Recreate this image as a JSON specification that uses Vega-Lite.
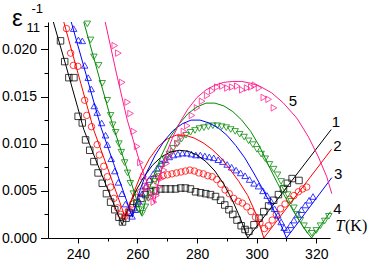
{
"$schema": "https://vega.github.io/schema/vega-lite/v6.json",
"width": 282, "height": 216,
"autosize": {"type": "none"},
"padding": {"left": 48, "top": 22, "right": 41, "bottom": 23},
"background": "white",
"config": {"view": {"stroke": null}, "axis": {"grid": false, "domainColor": "black", "tickColor": "black", "labelColor": "black", "titleColor": "black", "labelFont": "Liberation Sans", "titleFont": "Liberation Sans", "titleFontWeight": "normal", "labelFontSize": 14, "domainWidth": 1, "tickWidth": 1}},
"datasets": {
"pts": [
{"s":"1","T":234.2,"e":0.0209},{"s":"1","T":235.6,"e":0.0187},{"s":"1","T":237.0,"e":0.0170},{"s":"1","T":238.7,"e":0.0170},{"s":"1","T":240.1,"e":0.0129},{"s":"1","T":241.5,"e":0.0122},{"s":"1","T":242.6,"e":0.0104},{"s":"1","T":244.0,"e":0.0093},{"s":"1","T":245.4,"e":0.0081},{"s":"1","T":246.8,"e":0.0069},{"s":"1","T":248.2,"e":0.0058},{"s":"1","T":249.6,"e":0.0047},{"s":"1","T":251.0,"e":0.0038},{"s":"1","T":252.4,"e":0.0030},{"s":"1","T":253.8,"e":0.0022},{"s":"1","T":255.0,"e":0.0017},{"s":"1","T":256.2,"e":0.0021},{"s":"1","T":257.3,"e":0.0027},{"s":"1","T":258.5,"e":0.0032},{"s":"1","T":259.8,"e":0.0037},{"s":"1","T":261.2,"e":0.0042},{"s":"1","T":262.7,"e":0.0046},{"s":"1","T":264.4,"e":0.0049},{"s":"1","T":266.1,"e":0.0050},{"s":"1","T":267.8,"e":0.0052},{"s":"1","T":269.4,"e":0.0052},{"s":"1","T":271.1,"e":0.0052},{"s":"1","T":272.8,"e":0.0052},{"s":"1","T":274.5,"e":0.0053},{"s":"1","T":276.1,"e":0.0053},{"s":"1","T":277.8,"e":0.0052},{"s":"1","T":279.5,"e":0.0049},{"s":"1","T":281.2,"e":0.0048},{"s":"1","T":282.9,"e":0.0047},{"s":"1","T":284.5,"e":0.0046},{"s":"1","T":286.2,"e":0.0044},{"s":"1","T":287.9,"e":0.0040},{"s":"1","T":289.3,"e":0.0035},{"s":"1","T":290.7,"e":0.0030},{"s":"1","T":292.0,"e":0.0025},{"s":"1","T":293.4,"e":0.0019},{"s":"1","T":294.8,"e":0.0013},{"s":"1","T":296.1,"e":0.0009},{"s":"1","T":297.4,"e":0.0007},{"s":"1","T":299.1,"e":0.0014},{"s":"1","T":300.8,"e":0.0021},{"s":"1","T":302.4,"e":0.0028},{"s":"1","T":304.0,"e":0.0034},{"s":"1","T":305.7,"e":0.0040},{"s":"1","T":307.3,"e":0.0046},{"s":"1","T":309.0,"e":0.0052},{"s":"1","T":310.3,"e":0.0058},{"s":"1","T":311.9,"e":0.0063},{"s":"1","T":314.2,"e":0.0061},
{"s":"2","T":236.2,"e":0.0222},{"s":"2","T":237.6,"e":0.0196},{"s":"2","T":238.5,"e":0.0183},{"s":"2","T":240.0,"e":0.0182},{"s":"2","T":242.3,"e":0.0146},{"s":"2","T":243.0,"e":0.0130},{"s":"2","T":244.6,"e":0.0118},{"s":"2","T":246.5,"e":0.0099},{"s":"2","T":247.2,"e":0.0088},{"s":"2","T":248.7,"e":0.0076},{"s":"2","T":249.9,"e":0.0065},{"s":"2","T":251.0,"e":0.0054},{"s":"2","T":252.1,"e":0.0042},{"s":"2","T":253.3,"e":0.0032},{"s":"2","T":254.4,"e":0.0025},{"s":"2","T":255.8,"e":0.0023},{"s":"2","T":257.0,"e":0.0029},{"s":"2","T":258.3,"e":0.0036},{"s":"2","T":259.7,"e":0.0043},{"s":"2","T":261.1,"e":0.0049},{"s":"2","T":262.6,"e":0.0055},{"s":"2","T":264.1,"e":0.0060},{"s":"2","T":265.6,"e":0.0063},{"s":"2","T":267.1,"e":0.0065},{"s":"2","T":268.6,"e":0.0066},{"s":"2","T":270.1,"e":0.0067},{"s":"2","T":271.6,"e":0.0068},{"s":"2","T":273.1,"e":0.0069},{"s":"2","T":274.6,"e":0.0070},{"s":"2","T":276.1,"e":0.0071},{"s":"2","T":277.6,"e":0.0072},{"s":"2","T":279.1,"e":0.0071},{"s":"2","T":280.6,"e":0.0069},{"s":"2","T":282.1,"e":0.0068},{"s":"2","T":283.6,"e":0.0066},{"s":"2","T":285.1,"e":0.0065},{"s":"2","T":286.6,"e":0.0062},{"s":"2","T":288.0,"e":0.0057},{"s":"2","T":289.4,"e":0.0051},{"s":"2","T":290.8,"e":0.0047},{"s":"2","T":292.3,"e":0.0042},{"s":"2","T":293.8,"e":0.0039},{"s":"2","T":295.2,"e":0.0037},{"s":"2","T":296.7,"e":0.0033},{"s":"2","T":298.1,"e":0.0028},{"s":"2","T":299.6,"e":0.0022},{"s":"2","T":301.1,"e":0.0016},{"s":"2","T":302.6,"e":0.0010},{"s":"2","T":303.9,"e":0.0013},{"s":"2","T":305.2,"e":0.0019},{"s":"2","T":306.6,"e":0.0025},{"s":"2","T":308.0,"e":0.0031},{"s":"2","T":309.5,"e":0.0036},{"s":"2","T":311.0,"e":0.0041},{"s":"2","T":312.5,"e":0.0045},{"s":"2","T":314.0,"e":0.0049},{"s":"2","T":315.4,"e":0.0052},{"s":"2","T":316.8,"e":0.0054},
{"s":"3","T":238.6,"e":0.0222},{"s":"3","T":240.2,"e":0.0210},{"s":"3","T":241.5,"e":0.0209},{"s":"3","T":242.3,"e":0.0183},{"s":"3","T":243.5,"e":0.0170},{"s":"3","T":244.5,"e":0.0158},{"s":"3","T":245.5,"e":0.0140},{"s":"3","T":246.5,"e":0.0133},{"s":"3","T":248.0,"e":0.0122},{"s":"3","T":249.3,"e":0.0109},{"s":"3","T":249.9,"e":0.0099},{"s":"3","T":251.2,"e":0.0084},{"s":"3","T":252.4,"e":0.0071},{"s":"3","T":253.6,"e":0.0059},{"s":"3","T":254.8,"e":0.0047},{"s":"3","T":256.0,"e":0.0036},{"s":"3","T":257.1,"e":0.0027},{"s":"3","T":258.2,"e":0.0023},{"s":"3","T":259.3,"e":0.0030},{"s":"3","T":260.4,"e":0.0039},{"s":"3","T":261.6,"e":0.0047},{"s":"3","T":262.8,"e":0.0055},{"s":"3","T":264.0,"e":0.0062},{"s":"3","T":265.3,"e":0.0068},{"s":"3","T":266.6,"e":0.0074},{"s":"3","T":267.9,"e":0.0079},{"s":"3","T":269.3,"e":0.0083},{"s":"3","T":270.7,"e":0.0086},{"s":"3","T":272.1,"e":0.0088},{"s":"3","T":273.6,"e":0.0089},{"s":"3","T":275.1,"e":0.0090},{"s":"3","T":276.6,"e":0.0090},{"s":"3","T":278.1,"e":0.0089},{"s":"3","T":279.6,"e":0.0088},{"s":"3","T":281.1,"e":0.0088},{"s":"3","T":282.6,"e":0.0087},{"s":"3","T":284.1,"e":0.0086},{"s":"3","T":285.6,"e":0.0085},{"s":"3","T":287.1,"e":0.0083},{"s":"3","T":288.6,"e":0.0081},{"s":"3","T":290.1,"e":0.0078},{"s":"3","T":291.6,"e":0.0075},{"s":"3","T":293.1,"e":0.0072},{"s":"3","T":294.6,"e":0.0069},{"s":"3","T":296.1,"e":0.0066},{"s":"3","T":297.6,"e":0.0062},{"s":"3","T":299.1,"e":0.0058},{"s":"3","T":300.6,"e":0.0055},{"s":"3","T":302.1,"e":0.0050},{"s":"3","T":303.5,"e":0.0045},{"s":"3","T":304.8,"e":0.0039},{"s":"3","T":306.0,"e":0.0031},{"s":"3","T":307.1,"e":0.0024},{"s":"3","T":308.2,"e":0.0017},{"s":"3","T":309.2,"e":0.0011},{"s":"3","T":310.3,"e":0.0009},{"s":"3","T":311.4,"e":0.0014},{"s":"3","T":312.5,"e":0.0019},{"s":"3","T":313.7,"e":0.0025},{"s":"3","T":315.0,"e":0.0030},{"s":"3","T":316.3,"e":0.0035},{"s":"3","T":317.6,"e":0.0040},{"s":"3","T":318.9,"e":0.0044},
{"s":"4","T":243.2,"e":0.0227},{"s":"4","T":244.3,"e":0.0210},{"s":"4","T":245.4,"e":0.0192},{"s":"4","T":247.0,"e":0.0183},{"s":"4","T":248.2,"e":0.0164},{"s":"4","T":249.9,"e":0.0146},{"s":"4","T":251.0,"e":0.0130},{"s":"4","T":251.7,"e":0.0120},{"s":"4","T":252.7,"e":0.0112},{"s":"4","T":253.8,"e":0.0100},{"s":"4","T":254.6,"e":0.0091},{"s":"4","T":255.7,"e":0.0080},{"s":"4","T":256.7,"e":0.0069},{"s":"4","T":257.6,"e":0.0058},{"s":"4","T":258.6,"e":0.0047},{"s":"4","T":259.6,"e":0.0037},{"s":"4","T":260.6,"e":0.0030},{"s":"4","T":261.6,"e":0.0026},{"s":"4","T":262.7,"e":0.0033},{"s":"4","T":263.7,"e":0.0042},{"s":"4","T":264.8,"e":0.0051},{"s":"4","T":265.9,"e":0.0060},{"s":"4","T":267.0,"e":0.0068},{"s":"4","T":268.2,"e":0.0076},{"s":"4","T":269.4,"e":0.0083},{"s":"4","T":270.7,"e":0.0089},{"s":"4","T":272.0,"e":0.0095},{"s":"4","T":273.4,"e":0.0100},{"s":"4","T":274.8,"e":0.0105},{"s":"4","T":276.3,"e":0.0109},{"s":"4","T":277.8,"e":0.0112},{"s":"4","T":279.3,"e":0.0114},{"s":"4","T":280.8,"e":0.0116},{"s":"4","T":282.3,"e":0.0117},{"s":"4","T":283.8,"e":0.0118},{"s":"4","T":285.3,"e":0.0119},{"s":"4","T":286.8,"e":0.0119},{"s":"4","T":288.3,"e":0.0118},{"s":"4","T":289.8,"e":0.0117},{"s":"4","T":291.3,"e":0.0115},{"s":"4","T":292.8,"e":0.0113},{"s":"4","T":294.3,"e":0.0110},{"s":"4","T":295.8,"e":0.0107},{"s":"4","T":297.3,"e":0.0103},{"s":"4","T":298.7,"e":0.0099},{"s":"4","T":300.1,"e":0.0094},{"s":"4","T":301.5,"e":0.0089},{"s":"4","T":302.9,"e":0.0084},{"s":"4","T":304.3,"e":0.0078},{"s":"4","T":305.7,"e":0.0073},{"s":"4","T":307.0,"e":0.0067},{"s":"4","T":308.2,"e":0.0060},{"s":"4","T":309.3,"e":0.0053},{"s":"4","T":310.4,"e":0.0046},{"s":"4","T":311.5,"e":0.0039},{"s":"4","T":312.5,"e":0.0032},{"s":"4","T":313.6,"e":0.0025},{"s":"4","T":314.7,"e":0.0019},{"s":"4","T":315.9,"e":0.0013},{"s":"4","T":317.0,"e":0.0008},{"s":"4","T":318.5,"e":0.0005},{"s":"4","T":320.0,"e":0.0008},{"s":"4","T":321.4,"e":0.0013},{"s":"4","T":322.8,"e":0.0018},{"s":"4","T":324.2,"e":0.0023},
{"s":"5","T":252.4,"e":0.0204},{"s":"5","T":253.6,"e":0.0196},{"s":"5","T":254.9,"e":0.0165},{"s":"5","T":256.7,"e":0.0144},{"s":"5","T":257.7,"e":0.0132},{"s":"5","T":258.8,"e":0.0113},{"s":"5","T":259.9,"e":0.0097},{"s":"5","T":261.0,"e":0.0080},{"s":"5","T":262.1,"e":0.0065},{"s":"5","T":263.3,"e":0.0053},{"s":"5","T":264.4,"e":0.0043},{"s":"5","T":265.5,"e":0.0038},{"s":"5","T":266.4,"e":0.0045},{"s":"5","T":267.2,"e":0.0054},{"s":"5","T":268.0,"e":0.0063},{"s":"5","T":268.9,"e":0.0072},{"s":"5","T":269.8,"e":0.0079},{"s":"5","T":270.6,"e":0.0086},{"s":"5","T":272.0,"e":0.0092},{"s":"5","T":273.4,"e":0.0100},{"s":"5","T":274.5,"e":0.0107},{"s":"5","T":275.6,"e":0.0113},{"s":"5","T":276.7,"e":0.0119},{"s":"5","T":278.3,"e":0.0130},{"s":"5","T":280.0,"e":0.0138},{"s":"5","T":281.7,"e":0.0145},{"s":"5","T":283.4,"e":0.0151},{"s":"5","T":285.1,"e":0.0156},{"s":"5","T":286.8,"e":0.0160},{"s":"5","T":288.5,"e":0.0161},{"s":"5","T":290.2,"e":0.0159},{"s":"5","T":291.8,"e":0.0160},{"s":"5","T":293.5,"e":0.0161},{"s":"5","T":295.2,"e":0.0157},{"s":"5","T":296.8,"e":0.0159},{"s":"5","T":298.2,"e":0.0160},{"s":"5","T":299.4,"e":0.0162},{"s":"5","T":300.8,"e":0.0159},{"s":"5","T":302.4,"e":0.0149},{"s":"5","T":304.0,"e":0.0147},{"s":"5","T":305.8,"e":0.0138}
],
"fit": [
{"s":"1","T":231.8,"e":0.0229},{"s":"1","T":236,"e":0.0183},{"s":"1","T":240,"e":0.0138},{"s":"1","T":242,"e":0.0115},{"s":"1","T":246,"e":0.0083},{"s":"1","T":250,"e":0.0052},{"s":"1","T":254.9,"e":0.0014},{"s":"1","T":256,"e":0.0024},{"s":"1","T":258,"e":0.0040},{"s":"1","T":260,"e":0.0053},{"s":"1","T":262,"e":0.0064},{"s":"1","T":265,"e":0.0077},{"s":"1","T":268,"e":0.0086},{"s":"1","T":271,"e":0.0091},{"s":"1","T":274,"e":0.0093},{"s":"1","T":277,"e":0.0092},{"s":"1","T":280,"e":0.0088},{"s":"1","T":283,"e":0.0081},{"s":"1","T":286,"e":0.0071},{"s":"1","T":289,"e":0.0057},{"s":"1","T":292,"e":0.0039},{"s":"1","T":294.5,"e":0.0021},{"s":"1","T":297,"e":0.0},{"s":"1","T":325,"e":0.0115},
{"s":"2","T":235.3,"e":0.0229},{"s":"2","T":238,"e":0.0198},{"s":"2","T":241,"e":0.0164},{"s":"2","T":245.4,"e":0.0114},{"s":"2","T":250,"e":0.0074},{"s":"2","T":256,"e":0.0021},{"s":"2","T":257,"e":0.0031},{"s":"2","T":259,"e":0.0050},{"s":"2","T":261,"e":0.0066},{"s":"2","T":264,"e":0.0084},{"s":"2","T":267,"e":0.0097},{"s":"2","T":270,"e":0.0105},{"s":"2","T":273,"e":0.0109},{"s":"2","T":276,"e":0.0109},{"s":"2","T":279,"e":0.0106},{"s":"2","T":282,"e":0.0101},{"s":"2","T":285,"e":0.0094},{"s":"2","T":288,"e":0.0085},{"s":"2","T":291,"e":0.0073},{"s":"2","T":294,"e":0.0060},{"s":"2","T":297,"e":0.0045},{"s":"2","T":300,"e":0.0024},{"s":"2","T":302.4,"e":0.0},{"s":"2","T":325.1,"e":0.0094},
{"s":"3","T":237.8,"e":0.0229},{"s":"3","T":242,"e":0.0182},{"s":"3","T":247.8,"e":0.0117},{"s":"3","T":252,"e":0.0079},{"s":"3","T":258.3,"e":0.0022},{"s":"3","T":259.5,"e":0.0036},{"s":"3","T":261,"e":0.0052},{"s":"3","T":263,"e":0.0069},{"s":"3","T":266,"e":0.0088},{"s":"3","T":269,"e":0.0103},{"s":"3","T":272,"e":0.0114},{"s":"3","T":275,"e":0.0121},{"s":"3","T":278,"e":0.0125},{"s":"3","T":281,"e":0.0125},{"s":"3","T":284,"e":0.0122},{"s":"3","T":287,"e":0.0117},{"s":"3","T":290,"e":0.0109},{"s":"3","T":293,"e":0.0098},{"s":"3","T":296,"e":0.0085},{"s":"3","T":299,"e":0.0069},{"s":"3","T":302,"e":0.0052},{"s":"3","T":305,"e":0.0034},{"s":"3","T":308,"e":0.0015},{"s":"3","T":310,"e":0.0},{"s":"3","T":325.2,"e":0.0064},
{"s":"4","T":242,"e":0.0229},{"s":"4","T":246.5,"e":0.0178},{"s":"4","T":251.5,"e":0.0122},{"s":"4","T":256,"e":0.0078},{"s":"4","T":261.4,"e":0.0024},{"s":"4","T":263,"e":0.0042},{"s":"4","T":265,"e":0.0062},{"s":"4","T":268,"e":0.0087},{"s":"4","T":271,"e":0.0107},{"s":"4","T":274,"e":0.0121},{"s":"4","T":277,"e":0.0132},{"s":"4","T":280,"e":0.0139},{"s":"4","T":283,"e":0.0143},{"s":"4","T":286,"e":0.0143},{"s":"4","T":289,"e":0.0140},{"s":"4","T":292,"e":0.0134},{"s":"4","T":295,"e":0.0125},{"s":"4","T":298,"e":0.0113},{"s":"4","T":301,"e":0.0097},{"s":"4","T":304,"e":0.0077},{"s":"4","T":307,"e":0.0058},{"s":"4","T":310,"e":0.0041},{"s":"4","T":313,"e":0.0025},{"s":"4","T":316,"e":0.0010},{"s":"4","T":318.4,"e":0.0},{"s":"4","T":324.8,"e":0.0028},
{"s":"5","T":249.2,"e":0.0229},{"s":"5","T":253,"e":0.0174},{"s":"5","T":256.6,"e":0.0125},{"s":"5","T":261,"e":0.0078},{"s":"5","T":265.7,"e":0.0037},{"s":"5","T":267,"e":0.0058},{"s":"5","T":268.5,"e":0.0077},{"s":"5","T":270,"e":0.0092},{"s":"5","T":272,"e":0.0108},{"s":"5","T":274.5,"e":0.0124},{"s":"5","T":277,"e":0.0137},{"s":"5","T":280,"e":0.0149},{"s":"5","T":283,"e":0.0157},{"s":"5","T":286,"e":0.0162},{"s":"5","T":289,"e":0.0165},{"s":"5","T":292,"e":0.0166},{"s":"5","T":295,"e":0.0166},{"s":"5","T":298,"e":0.0164},{"s":"5","T":301,"e":0.0161},{"s":"5","T":305,"e":0.0154},{"s":"5","T":309,"e":0.0143},{"s":"5","T":313.5,"e":0.0127},{"s":"5","T":317.4,"e":0.0107},{"s":"5","T":320.7,"e":0.0086},{"s":"5","T":323.5,"e":0.0065},{"s":"5","T":325.2,"e":0.0047}
],
"lab": [
{"t":"5","T":312.2,"e":0.01452},{"t":"1","T":326.6,"e":0.01229},{"t":"2","T":327.1,"e":0.00975},{"t":"3","T":327.3,"e":0.00678},{"t":"4","T":327.1,"e":0.00304}
]
},
"resolve": {"axis": {"x": "independent", "y": "independent"}},
"layer": [
{"data": {"name": "pts"},
 "mark": {"type": "point", "filled": false, "strokeWidth": 0.9, "opacity": 0.85, "size": 42},
 "encoding": {
  "x": {"field": "T", "type": "quantitative", "scale": {"domain": [230, 324.6], "nice": false, "zero": false},
        "axis": {"orient": "bottom", "values": [240, 260, 280, 300, 320], "tickSize": 5, "labelPadding": 4, "title": "T", "titleFont": "Liberation Serif", "titleFontStyle": "italic", "titleFontSize": 16, "titleX": 287, "titleY": -8, "titleAlign": "left", "titleBaseline": "alphabetic", "titleAngle": 0}},
  "y": {"field": "e", "type": "quantitative", "scale": {"domain": [0, 0.0229], "nice": false, "zero": false},
        "axis": {"orient": "left", "values": [0, 0.005, 0.01, 0.015, 0.02], "format": ".3f", "tickSize": 7.5, "labelPadding": 4, "title": "ε", "titleFontSize": 24, "titleAngle": 0, "titleX": -36.5, "titleY": 3.5, "titleAlign": "left", "titleBaseline": "alphabetic"}},
  "color": {"field": "s", "type": "nominal", "scale": {"domain": ["1", "2", "3", "4", "5"], "range": ["#000000", "#ff0000", "#0000ff", "#008800", "#ff1a8c"]}, "legend": null},
  "shape": {"field": "s", "type": "nominal", "scale": {"domain": ["1", "2", "3", "4", "5"], "range": ["square", "circle", "triangle-up", "triangle-down", "triangle-right"]}, "legend": null}
 }},
{"data": {"name": "fit"},
 "mark": {"type": "line", "strokeWidth": 1},
 "encoding": {
  "x": {"field": "T", "type": "quantitative", "scale": {"domain": [230, 324.6], "nice": false, "zero": false},
        "axis": {"orient": "bottom", "values": [250, 270, 290, 310], "tickSize": 3, "labels": false, "domain": false, "title": "(K)", "titleFont": "Liberation Serif", "titleFontSize": 16, "titleX": 296.5, "titleY": -8, "titleAlign": "left", "titleBaseline": "alphabetic", "titleAngle": 0}},
  "y": {"field": "e", "type": "quantitative", "scale": {"domain": [0, 0.0229], "nice": false, "zero": false},
        "axis": {"orient": "left", "values": [0.0025, 0.0075, 0.0125, 0.0175, 0.0225], "tickSize": 4, "labels": false, "domain": false, "title": "11", "titleFontSize": 13, "titleAngle": 0, "titleX": -22, "titleY": 9.8, "titleAlign": "left", "titleBaseline": "alphabetic"}},
  "color": {"field": "s", "type": "nominal", "scale": {"domain": ["1", "2", "3", "4", "5"], "range": ["#000000", "#ff0000", "#0000ff", "#008800", "#ff1a8c"]}, "legend": null}
 }},
{"data": {"name": "lab"},
 "mark": {"type": "text", "fontSize": 15, "font": "Liberation Sans", "color": "black", "align": "center", "baseline": "middle"},
 "encoding": {
  "x": {"field": "T", "type": "quantitative", "scale": {"domain": [230, 324.6], "nice": false, "zero": false}, "axis": null},
  "y": {"field": "e", "type": "quantitative", "scale": {"domain": [0, 0.0229], "nice": false, "zero": false},
        "axis": {"orient": "left", "ticks": false, "labels": false, "domain": false, "title": "-1", "titleFontSize": 13, "titleAngle": 0, "titleX": -17, "titleY": -9.7, "titleAlign": "left", "titleBaseline": "alphabetic"}},
  "text": {"field": "t", "type": "nominal"}
 }}
]
}
